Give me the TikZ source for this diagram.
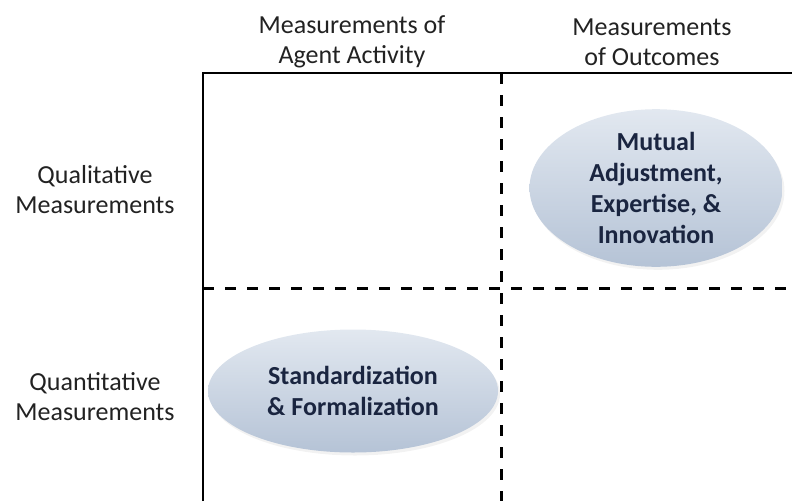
\documentclass[tikz,border=0pt]{standalone}
\usepackage{fontspec}
\setmainfont{Carlito}
\usetikzlibrary{shapes.geometric,shadows}

\definecolor{blobtop}{HTML}{E2E8F0}
\definecolor{blobbot}{HTML}{B5C3D6}
\definecolor{blobtext}{HTML}{1A2540}
\definecolor{headtext}{HTML}{222222}

\begin{document}
\begin{tikzpicture}[x=1pt,y=-1pt,
    head/.style={align=center,text=headtext,font=\fontsize{26}{30}\selectfont},
    blob/.style={ellipse,inner sep=0pt,align=center,text=blobtext,
      top color=blobtop,bottom color=blobbot,
      drop shadow={opacity=0.10,shadow xshift=2pt,shadow yshift=-3pt},
      font=\bfseries\fontsize{26}{31}\selectfont},
    grid/.style={line width=2.8pt},
    split/.style={line width=3pt,dash pattern=on 11pt off 11pt}]
  \useasboundingbox (0,0) rectangle (792,501);

  % the frame and its quarters
  \coordinate (corner) at (203,73);
  \coordinate (frameL) at (203,501);
  \coordinate (frameR) at (792,73);
  \coordinate (midTop) at (501,73);
  \coordinate (midBot) at (501,501);
  \coordinate (rowL) at (203,288);
  \coordinate (rowR) at (792,288);
  \draw [grid] (frameL) -- (corner) -- (frameR);
  \draw [split] (midTop) -- (midBot);
  \draw [split] (rowL) -- (rowR);

  % column and row headings
  \node [head] (activity) at (352,42) {Measurements of\\Agent Activity};
  \node [head] (outcomes) at (652,42) {Measurements\\of Outcomes};
  \node [head] (quali) at (95,190) {Qualitative\\Measurements};
  \node [head] (quanti) at (95,397) {Quantitative\\Measurements};

  % the two ellipses
  \node [blob,minimum width=253pt,minimum height=142pt] (mutual) at (656,188)
    {Mutual\\Adjustment,\\Expertise, \&\\Innovation};
  \node [blob,minimum width=290pt,minimum height=123pt] (standard) at (353,391)
    {Standardization\\\& Formalization};
\end{tikzpicture}
\end{document}
